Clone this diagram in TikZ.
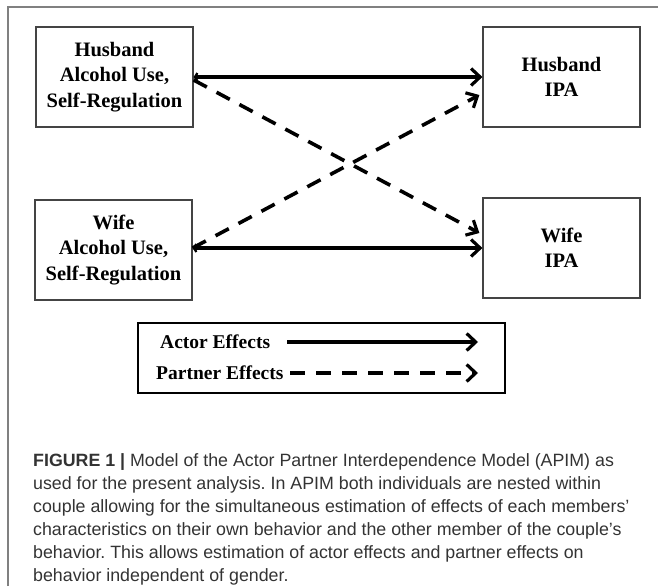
\documentclass[tikz,border=0pt]{standalone}
\usepackage{fontspec}
\setmainfont{Liberation Serif}
\newfontfamily\capfont{Liberation Sans}
\usetikzlibrary{arrows.meta}
\frenchspacing
\definecolor{boxgray}{HTML}{444444}
\definecolor{framegray}{HTML}{808080}
\definecolor{captext}{HTML}{333333}
\tikzset{
  box/.style={draw=boxgray, line width=1.2pt, minimum width=157pt, minimum height=100pt,
    inner sep=0pt, align=center, font=\fontsize{20.5}{25.5}\selectfont\bfseries},
  effect/.style={line width=3.6pt, -{Straight Barb[length=9pt,width=17pt,line width=3.2pt]}},
  tailtip/.style={{Straight Barb[length=2.5pt,width=8pt,line width=2.2pt]}-{Straight Barb[length=9pt,width=17pt,line width=3.2pt]}},
  partner/.style={effect, dash pattern=on 15pt off 11pt},
  legtext/.style={anchor=west, inner sep=0pt, font=\fontsize{19.5}{24}\selectfont\bfseries},
  capline/.style={anchor=base west, inner sep=0pt, text=captext, font=\capfont\fontsize{17.8}{23}\selectfont}
}
\begin{document}
\begin{tikzpicture}[x=1pt, y=-1pt]
\useasboundingbox (0,0) rectangle (658,586);
% outer frame
\draw[framegray, line width=1.5pt] (8,586) -- (8,7) -- (658,7);
% boxes
\node[box] (hA) at (114.5,77) {Husband\\Alcohol Use,\\Self-Regulation};
\node[box] (hI) at (561.5,77) {Husband\\IPA};
\node[box] (wA) at (113.5,250) {Wife\\Alcohol Use,\\Self-Regulation};
\node[box] (wI) at (561.5,248) {Wife\\IPA};
% actor effects
\draw[effect, tailtip] (hA.east) -- (hI.west);
\draw[effect, tailtip] ([yshift=2pt]wA.east) -- (wI.west);
% partner effects
\draw[partner] ([yshift=-3pt]hA.east) -- ([xshift=-3pt,yshift=15pt]wI.west);
\draw[partner] ([yshift=2pt]wA.east) -- ([xshift=-3pt,yshift=-18pt]hI.west);
% legend
\node[draw=black, line width=2.6pt, minimum width=367pt, minimum height=70pt, inner sep=0pt] (legend) at (321.5,358) {};
\node[legtext] (actor) at (160,342) {Actor Effects};
\node[legtext] (partnerL) at (156,373) {Partner Effects};
\coordinate (a1) at (287,342);
\coordinate (a2) at (478,342);
\coordinate (p1) at (290,373);
\coordinate (p2) at (478,373);
\draw[effect] (a1) -- (a2);
\draw[partner] (p1) -- (p2);
% caption
\node[capline] (c1) at (33,466) {\textbf{FIGURE 1 |} Model of the Actor Partner Interdependence Model (APIM) as};
\node[capline] (c2) at (33,489) {used for the present analysis. In APIM both individuals are nested within};
\node[capline] (c3) at (33,512) {couple allowing for the simultaneous estimation of effects of each members’};
\node[capline] (c4) at (33,535) {characteristics on their own behavior and the other member of the couple’s};
\node[capline] (c5) at (33,558) {behavior. This allows estimation of actor effects and partner effects on};
\node[capline] (c6) at (33,581) {behavior independent of gender.};
\end{tikzpicture}
\end{document}
